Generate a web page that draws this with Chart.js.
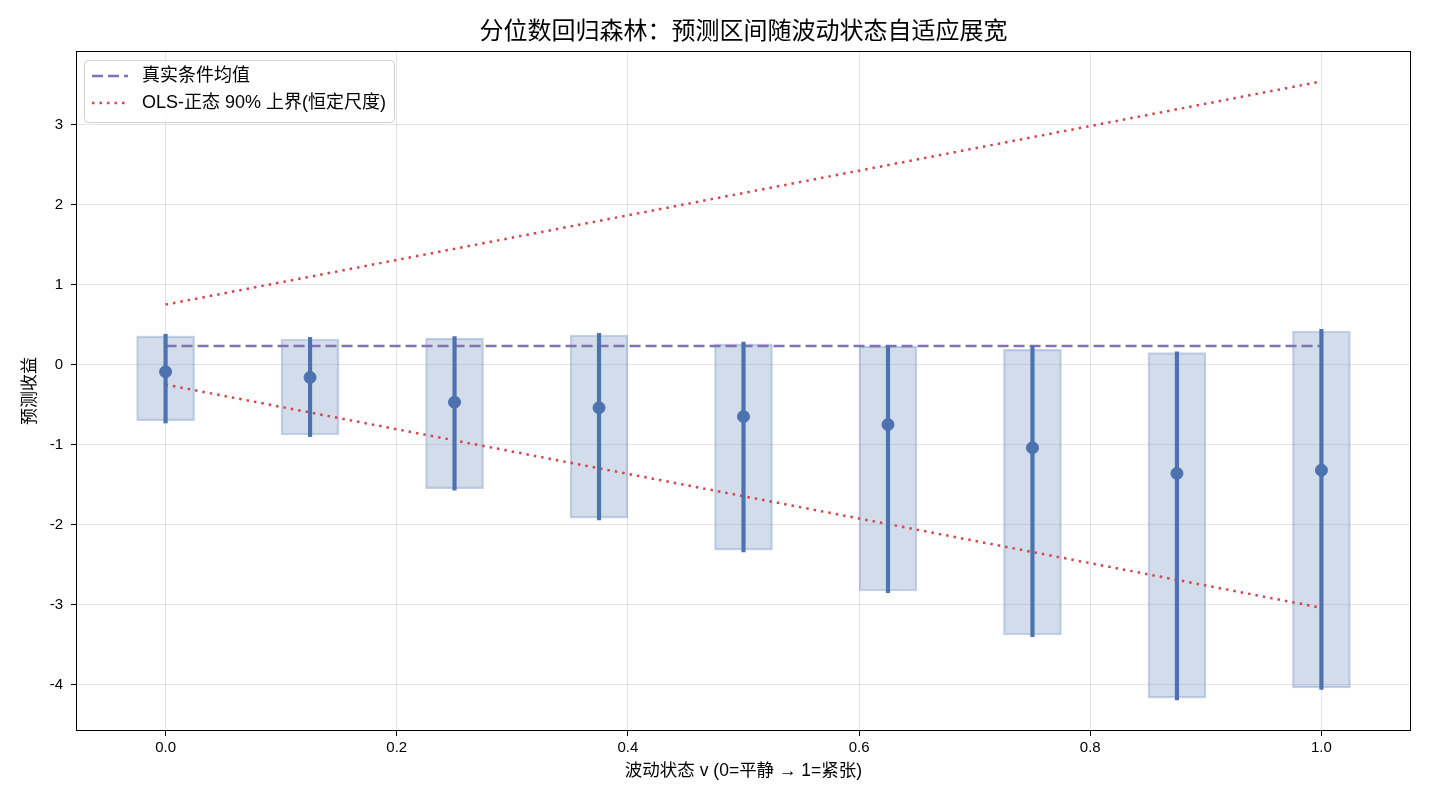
<!DOCTYPE html>
<html>
<head>
<meta charset="utf-8">
<script src="https://cdn.jsdelivr.net/npm/chart.js@4"></script>
<style>
  html, body { margin: 0; padding: 0; background: #fff; }
  #wrap { width: 1430px; height: 806px; }
</style>
</head>
<body>
<div id="wrap"><canvas id="c" width="1430" height="806"></canvas></div>
<script>
// 波动状态取值
const states = [0, 0.125, 0.25, 0.375, 0.5, 0.625, 0.75, 0.875, 1.0];
// 中位数预测
const median = [-0.09, -0.16, -0.47, -0.54, -0.65, -0.75, -1.04, -1.36, -1.32];
// 区间矩形 (下/上)
const boxLow  = [-0.70, -0.88, -1.55, -1.92, -2.32, -2.83, -3.38, -4.17, -4.04];
const boxHigh = [0.36, 0.32, 0.33, 0.37, 0.26, 0.23, 0.19, 0.15, 0.42];
// 竖线区间 (下/上)
const lineLow  = [-0.73, -0.90, -1.57, -1.94, -2.34, -2.85, -3.40, -4.19, -4.06];
const lineHigh = [0.38, 0.34, 0.35, 0.39, 0.28, 0.24, 0.23, 0.16, 0.44];
// 真实条件均值
const trueMean = 0.233;
// OLS 正态区间端点 (v=0, v=1)
const olsUpper = [0.75, 3.54];
const olsLower = [-0.25, -3.04];

const xTicks = [0, 0.2, 0.4, 0.6, 0.8, 1.0];
const yTicks = [-4, -3, -2, -1, 0, 1, 2, 3];

const TITLE = '分位数回归森林：预测区间随波动状态自适应展宽';
const BLUE = '#4c72b0';
const PURPLE = '#8172b3';
const RED = '#d3474c';
const FONT = "'Liberation Sans', Arial, 'Noto Sans CJK SC', sans-serif";

// 标题 + 图例 + 外框
const framePlugin = {
    id: 'frame',
    afterDraw(chart) {
        const { ctx, chartArea: a } = chart;
        ctx.save();
        ctx.strokeStyle = '#000';
        ctx.lineWidth = 1;
        ctx.strokeRect(a.left + 0.5, a.top + 0.5, a.right - a.left - 1, a.bottom - a.top - 1);

        ctx.fillStyle = '#000';
        ctx.font = '24px ' + FONT;
        ctx.textAlign = 'center';
        ctx.textBaseline = 'middle';
        ctx.fillText(TITLE, (a.left + a.right) / 2, 32);

        // legend
        const x0 = a.left + 8, y0 = a.top + 9, w = 310, h = 62;
        ctx.fillStyle = 'rgba(255,255,255,0.8)';
        ctx.strokeStyle = '#d0d0d0';
        ctx.beginPath();
        ctx.roundRect(x0 + 0.5, y0 + 0.5, w, h, 4);
        ctx.fill();
        ctx.stroke();
        const items = [
            { text: '真实条件均值', color: PURPLE, dash: [11, 5], width: 2.5 },
            { text: 'OLS-正态 90% 上界(恒定尺度)', color: RED, dash: [2.5, 5], width: 2.5 }
        ];
        ctx.font = '18px ' + FONT;
        ctx.textAlign = 'left';
        items.forEach((it, i) => {
            const yy = y0 + 16 + i * 27;
            ctx.strokeStyle = it.color;
            ctx.lineWidth = it.width;
            ctx.setLineDash(it.dash);
            ctx.beginPath();
            ctx.moveTo(x0 + 8, yy);
            ctx.lineTo(x0 + 44, yy);
            ctx.stroke();
            ctx.setLineDash([]);
            ctx.fillStyle = '#000';
            ctx.fillText(it.text, x0 + 58, yy);
        });
        ctx.restore();
    }
};

const pts = arr => states.map((s, i) => ({ x: s, y: arr[i] }));
const ranges = (lo, hi) => states.map((s, i) => ({ x: s, y: [lo[i], hi[i]] }));

new Chart(document.getElementById('c'), {
    type: 'bar',
    data: {
        datasets: [
            {
                type: 'scatter',
                data: pts(median),
                backgroundColor: BLUE,
                borderColor: BLUE,
                pointRadius: 6,
                order: 0
            },
            {
                type: 'bar',
                data: ranges(lineLow, lineHigh),
                backgroundColor: BLUE,
                borderWidth: 0,
                barThickness: 3.5,
                grouped: false,
                order: 1
            },
            {
                type: 'line',
                data: [{ x: 0, y: trueMean }, { x: 1, y: trueMean }],
                borderColor: PURPLE,
                borderWidth: 2.5,
                borderDash: [11, 5],
                pointRadius: 0,
                fill: false,
                order: 2
            },
            {
                type: 'line',
                data: [{ x: 0, y: olsUpper[0] }, { x: 1, y: olsUpper[1] }],
                borderColor: RED,
                borderWidth: 2.5,
                borderDash: [2.5, 5],
                pointRadius: 0,
                fill: false,
                order: 3
            },
            {
                type: 'line',
                data: [{ x: 0, y: olsLower[0] }, { x: 1, y: olsLower[1] }],
                borderColor: RED,
                borderWidth: 2.5,
                borderDash: [2.5, 5],
                pointRadius: 0,
                fill: false,
                order: 3
            },
            {
                type: 'bar',
                data: ranges(boxLow, boxHigh),
                backgroundColor: 'rgba(76,114,176,0.25)',
                borderColor: 'rgba(76,114,176,0.32)',
                borderWidth: 1.5,
                borderSkipped: false,
                barThickness: 58,
                grouped: false,
                order: 4
            }
        ]
    },
    options: {
        responsive: false,
        animation: false,
        layout: { padding: { left: 0, right: 19, top: 51, bottom: 0 } },
        plugins: {
            legend: { display: false },
            tooltip: { enabled: false },
            title: { display: false }
        },
        scales: {
            x: {
                type: 'linear',
                min: -0.0775,
                max: 1.0775,
                offset: false,
                afterBuildTicks: s => { s.ticks = xTicks.map(v => ({ value: v })); },
                afterFit: s => { s.height = 75; },
                ticks: {
                    color: '#000',
                    font: { family: FONT, size: 15 },
                    padding: 3,
                    callback: v => v.toFixed(1)
                },
                grid: { color: 'rgba(0,0,0,0.1)', tickColor: '#000', tickLength: 5, offset: false },
                border: { display: false },
                title: {
                    display: true,
                    text: '波动状态 v (0=平静 → 1=紧张)',
                    color: '#000',
                    font: { family: FONT, size: 17.5 },
                    padding: { top: 0, bottom: 24 }
                }
            },
            y: {
                type: 'linear',
                min: -4.58,
                max: 3.92,
                afterBuildTicks: s => { s.ticks = yTicks.map(v => ({ value: v })); },
                afterFit: s => { s.width = 76; },
                ticks: {
                    color: '#000',
                    font: { family: FONT, size: 15 },
                    padding: 8
                },
                grid: { color: 'rgba(0,0,0,0.1)', tickColor: '#000', tickLength: 5 },
                border: { display: false },
                title: {
                    display: true,
                    text: '预测收益',
                    color: '#000',
                    font: { family: FONT, size: 17 },
                    padding: { top: 20, bottom: 0 }
                }
            }
        }
    },
    plugins: [framePlugin]
});
</script>
</body>
</html>
